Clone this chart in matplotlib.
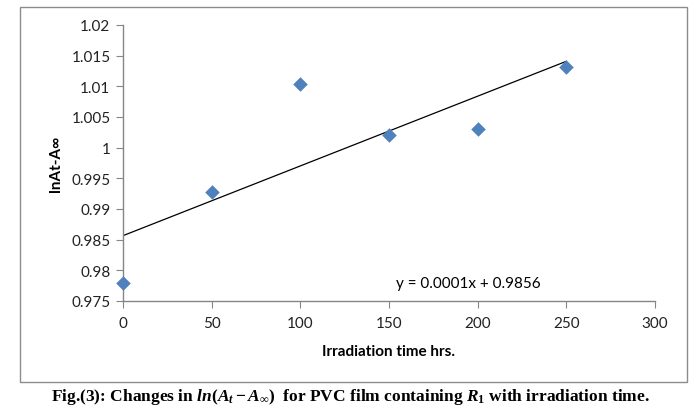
import numpy as np
import matplotlib
matplotlib.use("Agg")
import matplotlib.pyplot as plt

# data
time_hrs = [0, 50, 100, 150, 200, 250]
ln_values = [0.9779, 0.9927, 1.0103, 1.0021, 1.0031, 1.0131]
x_ticks = [0, 50, 100, 150, 200, 250, 300]
y_ticks = [0.975, 0.98, 0.985, 0.99, 0.995, 1.0, 1.005, 1.01, 1.015, 1.02]
y_tick_labels = ["0.975", "0.98", "0.985", "0.99", "0.995", "1", "1.005", "1.01", "1.015", "1.02"]
equation = "y = 0.0001x + 0.9856"

plt.rcParams['font.family'] = ['Lato', 'DejaVu Sans']
plt.rcParams['mathtext.fontset'] = 'custom'
plt.rcParams['mathtext.it'] = 'Liberation Serif:bold:italic'
plt.rcParams['mathtext.rm'] = 'Liberation Serif:bold'
plt.rcParams['mathtext.bf'] = 'Liberation Serif:bold:italic'

fig = plt.figure(figsize=(7.0, 4.14), dpi=100)
ax = fig.add_axes([123/700, 1-302/414, (655-123)/700, (302-26)/414])

# outer chart border
border = plt.Rectangle((20/700, 1-383/414), (687-20)/700, (383-8)/414,
                       transform=fig.transFigure, fill=False, edgecolor='#8c8c8c', linewidth=1.0)
fig.patches.append(border)

ax.scatter(time_hrs, ln_values, marker='D', s=55, color='#4F81BD', zorder=3, linewidths=0, clip_on=False)

slope, intercept = np.polyfit(time_hrs, ln_values, 1)
xs = np.array([time_hrs[0], time_hrs[-1]])
ax.plot(xs, slope*xs + intercept, color='black', linewidth=0.9, zorder=2)

ax.set_xlim(0, 300)
ax.set_ylim(0.975, 1.02)
ax.set_xticks(x_ticks)
ax.set_yticks(y_ticks)
ax.set_yticklabels(y_tick_labels)

for s in ['top', 'right']:
    ax.spines[s].set_visible(False)
for s in ['left', 'bottom']:
    ax.spines[s].set_color('#868686')
    ax.spines[s].set_linewidth(1.0)
ax.tick_params(axis='both', direction='out', length=5, color='#868686', labelsize=11, labelcolor='#222222')
ax.tick_params(axis='x', pad=6)
ax.tick_params(axis='y', pad=4)

ax.set_xlabel("Irradiation time hrs.", fontsize=11, fontweight='bold', labelpad=10)
ax.set_ylabel("lnAt-A∞", fontsize=11, fontweight='bold', labelpad=6)

ax.text(195, 0.9779, equation, ha='center', va='center', fontsize=11)

fig.text(0.5, 1-397/414,
         r"Fig.(3): Changes in $ln(A_t-A_\infty)$  for PVC film containing $R_1$ with irradiation time.",
         ha='center', va='center', fontsize=12.5, fontweight='bold', family='Liberation Serif')

fig.savefig("out.png", dpi=100)
